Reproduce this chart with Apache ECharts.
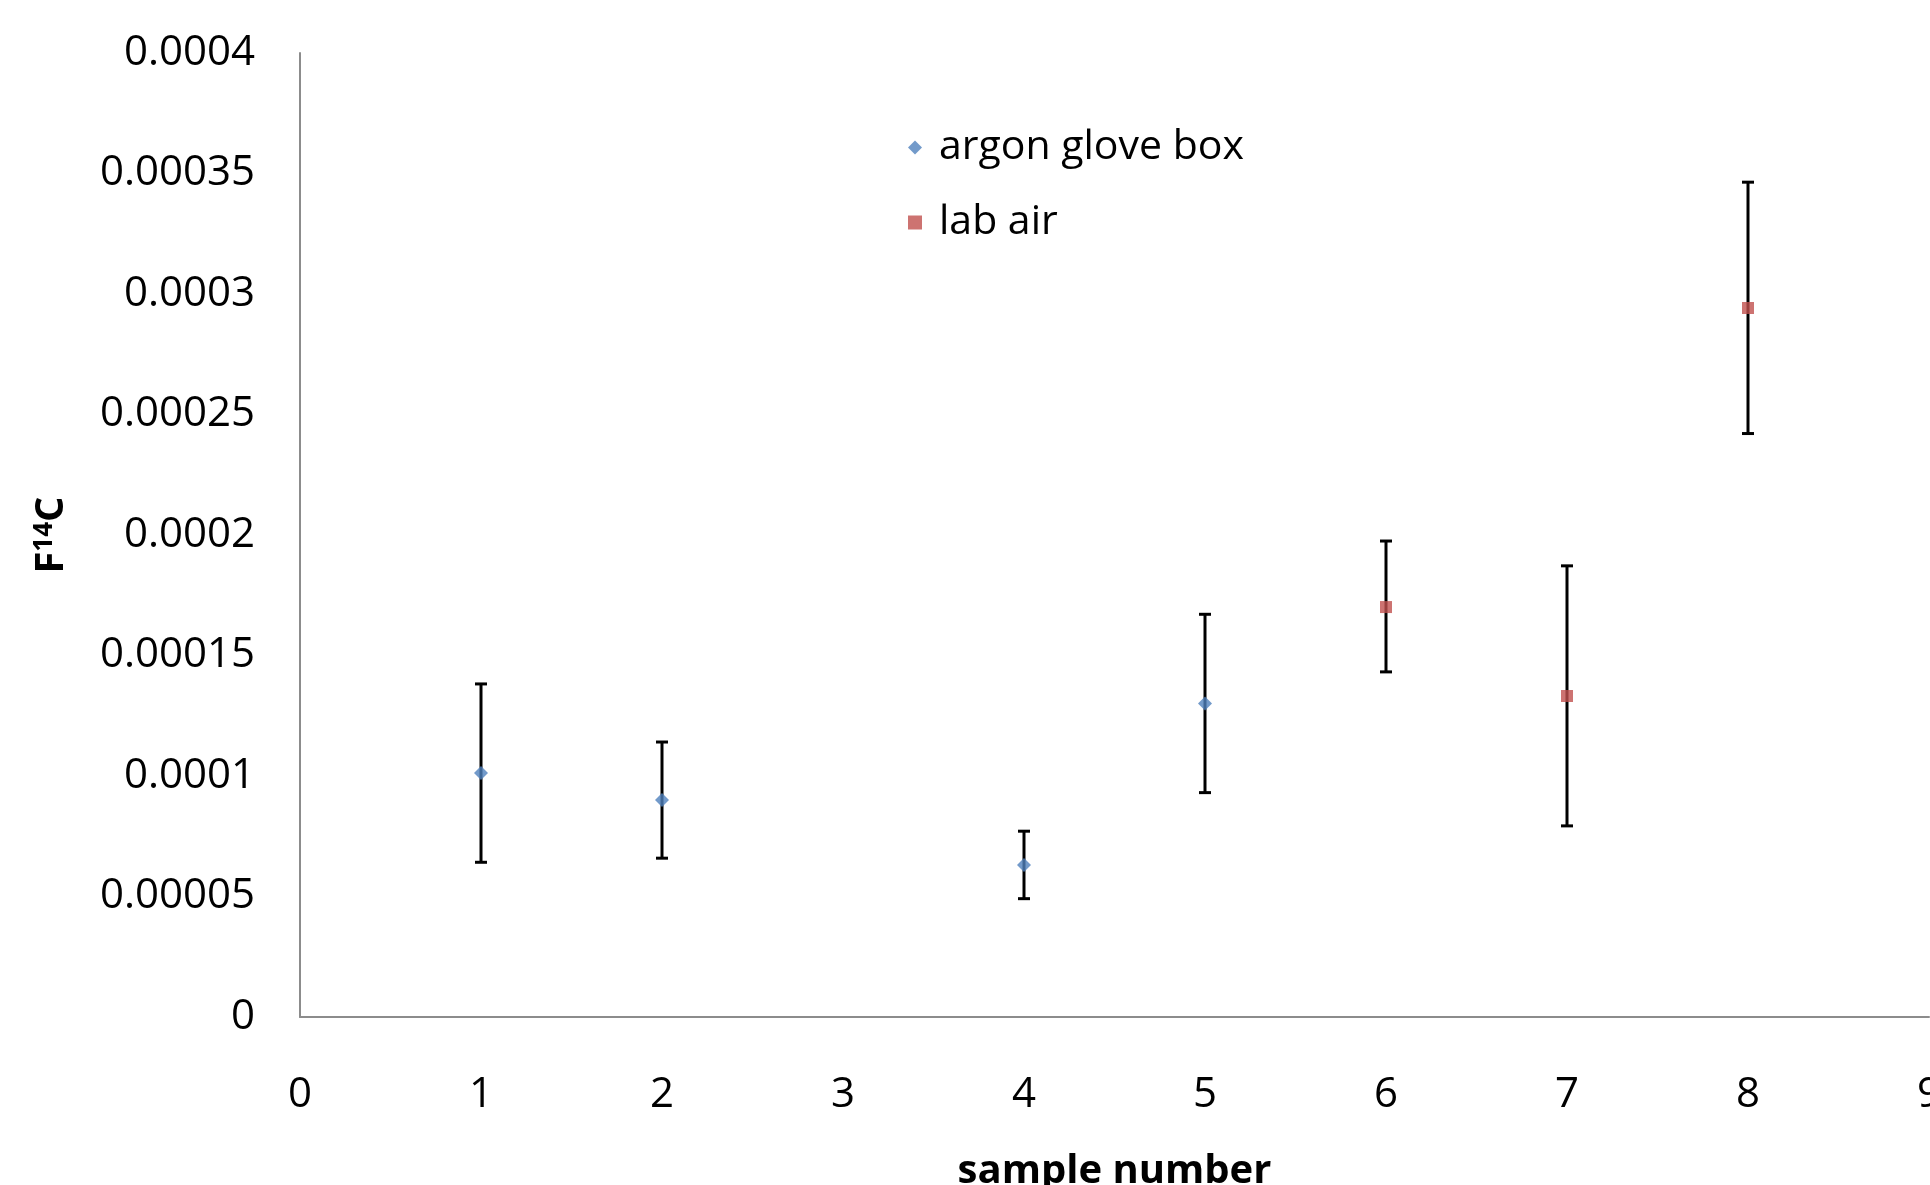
<!DOCTYPE html>
<html>
<head>
<meta charset="utf-8">
<title>F14C by sample number</title>
<script src="https://cdn.jsdelivr.net/npm/echarts@6/dist/echarts.min.js"></script>
<style>
  html, body { margin: 0; padding: 0; background: #fff; }
  #chart { width: 1930px; height: 1185px; }
</style>
</head>
<body>
<div id="chart"></div>
<script>
// argon glove box samples
const argonSamples = [1, 2, 4, 5]
const argonValues = [0.0001012, 0.0000900, 0.0000631, 0.0001301]
const argonLow = [0.0000642, 0.0000659, 0.0000491, 0.0000931]
const argonHigh = [0.0001382, 0.0001141, 0.0000771, 0.0001671]

// lab air samples
const airSamples = [6, 7, 8]
const airValues = [0.0001701, 0.0001332, 0.0002942]
const airLow = [0.0001432, 0.0000793, 0.0002421]
const airHigh = [0.0001975, 0.0001872, 0.0003464]

const yTicks = [0, 0.00005, 0.0001, 0.00015, 0.0002, 0.00025, 0.0003, 0.00035, 0.0004]

const font = '"Open Sans", "Liberation Sans", sans-serif'

function points(xs, ys) {
  return xs.map((x, i) => [x, ys[i]])
}
function bars(xs, lo, hi) {
  return xs.map((x, i) => [x, lo[i], hi[i]])
}

// error bar with caps, drawn through the axis scales
function renderErr(params, api) {
  const top = api.coord([api.value(0), api.value(2)])
  const bot = api.coord([api.value(0), api.value(1)])
  const cap = 6
  const style = { stroke: '#000', lineWidth: 3 }
  return {
    type: 'group',
    children: [
      { type: 'line', shape: { x1: top[0], y1: top[1], x2: bot[0], y2: bot[1] }, style },
      { type: 'line', shape: { x1: top[0] - cap, y1: top[1], x2: top[0] + cap, y2: top[1] }, style },
      { type: 'line', shape: { x1: bot[0] - cap, y1: bot[1], x2: bot[0] + cap, y2: bot[1] }, style }
    ]
  }
}

const chart = echarts.init(document.getElementById('chart'))

chart.setOption({
  animation: false,
  textStyle: { fontFamily: font },
  grid: { left: 300, right: 1, top: 53, bottom: 168, outerBoundsMode: 'none', containLabel: false },
  legend: {
    data: ['argon glove box', 'lab air'],
    orient: 'vertical',
    left: 903,
    top: 122,
    itemWidth: 14,
    itemHeight: 14,
    itemGap: 34,
    textStyle: { fontFamily: font, fontSize: 41, color: '#000', padding: [0, 0, 0, 12] }
  },
  xAxis: {
    type: 'value',
    min: 0,
    max: 9,
    interval: 1,
    name: 'sample number',
    nameLocation: 'middle',
    nameGap: 135,
    nameTextStyle: { fontFamily: font, fontSize: 40, fontWeight: 'bold', color: '#000' },
    axisLine: { show: true, onZero: false, lineStyle: { color: '#8c8c8c', width: 2 } },
    axisTick: { show: false },
    splitLine: { show: false },
    axisLabel: { fontFamily: font, fontSize: 42, color: '#000', margin: 57, showMaxLabel: true }
  },
  yAxis: {
    type: 'value',
    min: 0,
    max: 0.0004,
    interval: 0.00005,
    name: '{b|F}{s|14}{b|C}',
    nameLocation: 'middle',
    nameGap: 228,
    nameRotate: 90,
    nameTextStyle: {
      rich: {
        b: { fontFamily: font, fontSize: 40, fontWeight: 'bold', color: '#000' },
        s: { fontFamily: font, fontSize: 26, fontWeight: 'bold', color: '#000', verticalAlign: 'top', padding: [0, 0, 14, 0] }
      }
    },
    axisLine: { show: true, lineStyle: { color: '#8c8c8c', width: 2 } },
    axisTick: { show: false },
    splitLine: { show: false },
    axisLabel: {
      fontFamily: font,
      fontSize: 42,
      color: '#000',
      margin: 45,
      formatter: v => {
        const t = yTicks.find(k => Math.abs(k - v) < 1e-9)
        return String(t === undefined ? v : t)
      }
    }
  },
  series: [
    {
      name: 'argon err',
      type: 'custom',
      renderItem: renderErr,
      data: bars(argonSamples, argonLow, argonHigh),
      z: 1
    },
    {
      name: 'air err',
      type: 'custom',
      renderItem: renderErr,
      data: bars(airSamples, airLow, airHigh),
      z: 1
    },
    {
      name: 'argon glove box',
      type: 'scatter',
      symbol: 'diamond',
      symbolSize: 14,
      itemStyle: { color: '#4f81bd' },
      data: points(argonSamples, argonValues),
      z: 3
    },
    {
      name: 'lab air',
      type: 'scatter',
      symbol: 'rect',
      symbolSize: 12,
      itemStyle: { color: '#c0504d' },
      data: points(airSamples, airValues),
      z: 3
    }
  ]
})
</script>
</body>
</html>
